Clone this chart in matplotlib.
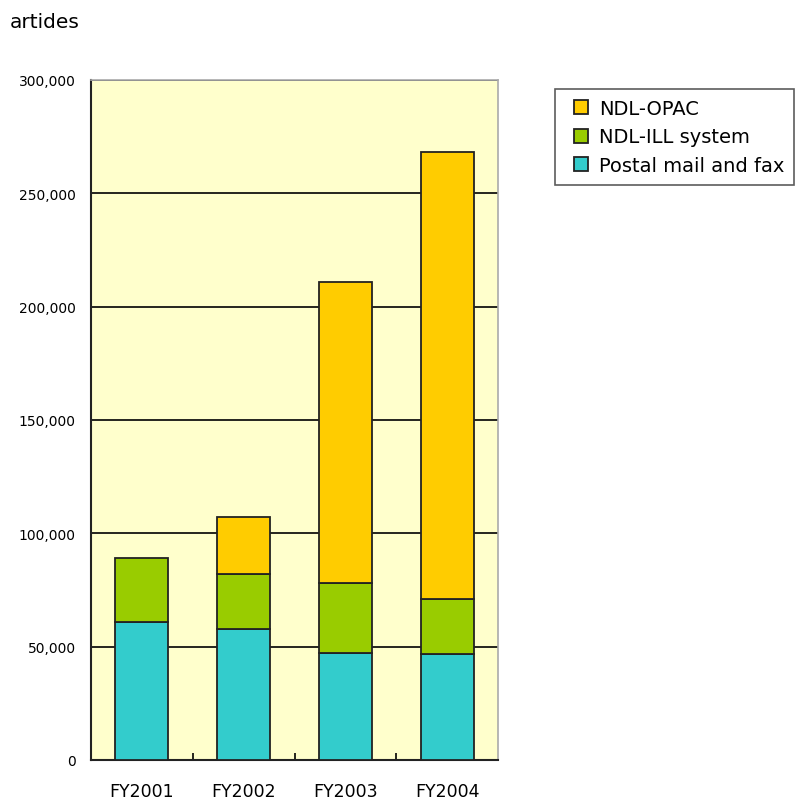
import matplotlib.pyplot as plt
import numpy as np
from matplotlib.ticker import FuncFormatter, FixedLocator
from matplotlib.legend_handler import HandlerPatch
from matplotlib.patches import Rectangle

years = ["FY2001", "FY2002", "FY2003", "FY2004"]
postal = [60800, 57700, 47300, 46600]
ill = [28400, 24300, 30900, 24600]
opac = [0, 25400, 132800, 197000]

fig = plt.figure(figsize=(7.95, 8.04), dpi=100)
ax = fig.add_axes([0.1145, 0.0535, 0.512, 0.8458])
ax.set_facecolor("#FFFFCC")

x = np.arange(len(years))
w = 0.52
b1 = ax.bar(x, postal, w, color="#33CCCC", edgecolor="#222222", linewidth=1.3,
            label="Postal mail and fax", zorder=3)
b2 = ax.bar(x, ill, w, bottom=postal, color="#99CC00", edgecolor="#222222",
            linewidth=1.3, label="NDL-ILL system", zorder=3)
bottom3 = np.array(postal) + np.array(ill)
mask = np.array(opac) > 0
b3 = ax.bar(x[mask], np.array(opac)[mask], w, bottom=bottom3[mask], color="#FFCC00",
            edgecolor="#222222", linewidth=1.3, label="NDL-OPAC", zorder=3)

ax.set_xlim(-0.5, 3.5)
ax.set_ylim(0, 300000)
ax.set_yticks(np.arange(0, 300001, 50000))
ax.yaxis.set_major_formatter(FuncFormatter(lambda v, p: f"{int(v):,}"))
ax.yaxis.grid(True, color="black", linewidth=1.2, zorder=1)
ax.set_axisbelow(True)
ax.tick_params(axis="y", length=0, labelsize=10, pad=11)
ax.set_xticks(x)
ax.set_xticklabels(years, fontsize=12.5)
ax.tick_params(axis="x", length=0, pad=16)
ax.xaxis.set_minor_locator(FixedLocator([0.5, 1.5, 2.5]))
ax.tick_params(axis="x", which="minor", direction="in", length=5, width=1.2)

for s in ["left", "bottom"]:
    ax.spines[s].set_color("#222222")
    ax.spines[s].set_linewidth(1.5)
for s in ["top", "right"]:
    ax.spines[s].set_color("#aaaaaa")
    ax.spines[s].set_linewidth(1.2)

fig.text(0.012, 0.972, "artides", fontsize=14.5, va="center", ha="left")


def square(legend, orig_handle, xdescent, ydescent, width, height, fontsize):
    s = 10
    return Rectangle((width - s - xdescent, (height - s) / 2 - ydescent), s, s)


handles = [b3[0], b2[0], b1[0]]
sq = HandlerPatch(patch_func=square)
leg = fig.legend(handles=handles, labels=["NDL-OPAC", "NDL-ILL system", "Postal mail and fax"],
                 loc="upper left", bbox_to_anchor=(0.698, 0.888), fontsize=14,
                 frameon=True, fancybox=False, edgecolor="#333333",
                 handlelength=1.2, handleheight=0.7, handletextpad=0.55,
                 labelspacing=0.5, borderpad=0.5, borderaxespad=0,
                 handler_map={h: sq for h in handles})
leg.get_frame().set_linewidth(1.2)

fig.savefig("out.png", dpi=100)
